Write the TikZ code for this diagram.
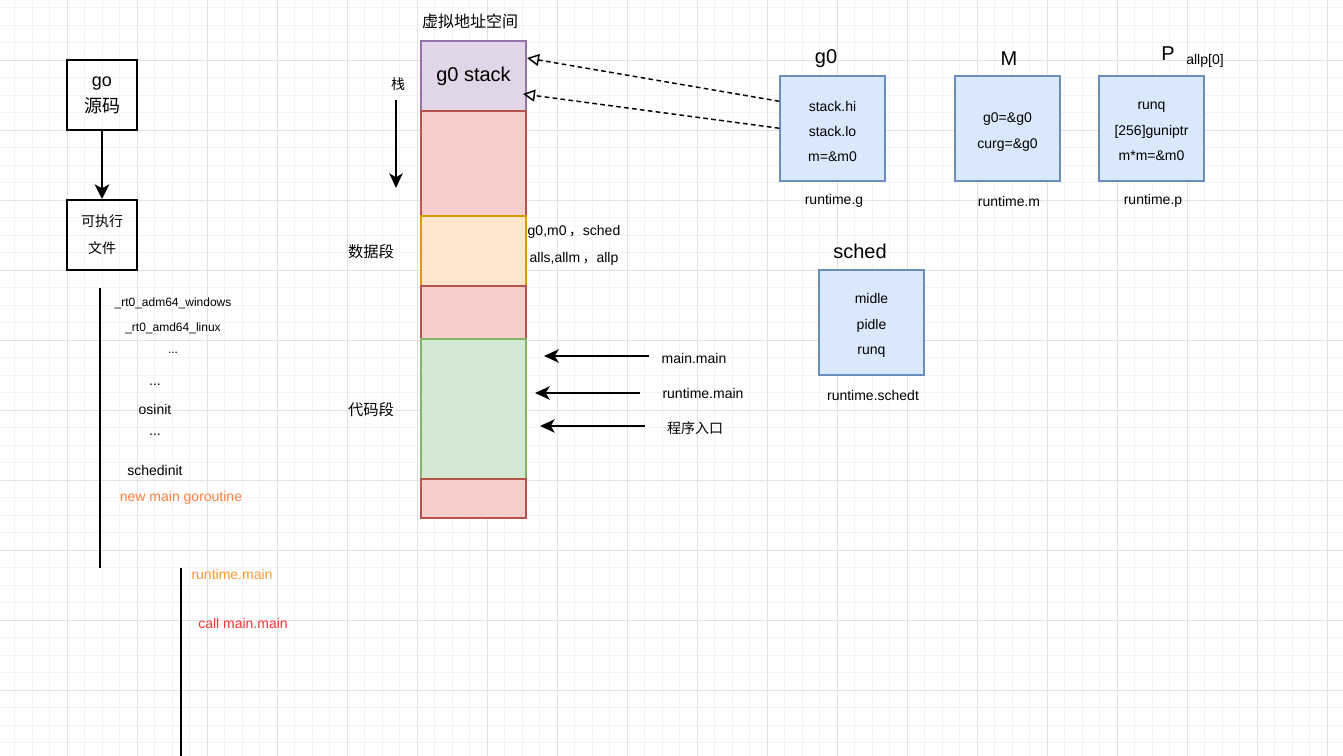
\documentclass[tikz,border=0pt]{standalone}
\usepackage{fontspec}
\setmainfont{Liberation Sans}
\newfontfamily\cjk{Noto Sans CJK SC}
\usetikzlibrary{arrows.meta,calc}

\definecolor{gridmin}{HTML}{F3F3F3}
\definecolor{gridmaj}{HTML}{E2E2E2}
\definecolor{purfill}{HTML}{E1D5E7}
\definecolor{purline}{HTML}{9673A6}
\definecolor{redfill}{HTML}{F8CECC}
\definecolor{redline}{HTML}{B85450}
\definecolor{orgfill}{HTML}{FFE6CC}
\definecolor{orgline}{HTML}{D79B00}
\definecolor{grnfill}{HTML}{D5E8D4}
\definecolor{grnline}{HTML}{82B366}
\definecolor{bluefill}{HTML}{DAE8FC}
\definecolor{blueline}{HTML}{6C8EBF}
\definecolor{txtorange}{HTML}{FF8040}
\definecolor{txtlight}{HTML}{FF9933}
\definecolor{txtred}{HTML}{FF3333}

\begin{document}
\begin{tikzpicture}[x=0.75pt, y=-0.75pt, >={Stealth[length=11pt, width=10pt, inset=3pt]}, line width=0.8pt,
  blkbox/.style={draw=black, line width=1.5pt, minimum width=52.5pt, minimum height=52.5pt, inner sep=0pt, align=center},
  memseg/.style={draw, line width=1.1pt, minimum width=78.75pt, inner sep=0pt, outer sep=0pt},
  bluebox/.style={draw=blueline, fill=bluefill, line width=1.1pt, minimum width=78.75pt, minimum height=78.75pt, inner sep=0pt},
  fields/.style={align=center, inner sep=0pt, font=\fontsize{10.5}{19}\selectfont},
  sm/.style={font=\fontsize{9}{11}\selectfont, inner sep=0pt},
  md/.style={font=\fontsize{10.5}{12}\selectfont, inner sep=0pt},
  cn/.style={font=\cjk\fontsize{10.5}{12}\selectfont, inner sep=0pt},
  big/.style={font=\fontsize{15}{18}\selectfont, inner sep=0pt},
  dasharr/.style={dashed, dash pattern=on 3.5pt off 2.5pt, line width=1.1pt, -{Triangle[open, length=9pt, width=9pt]}}]

\useasboundingbox (0,0) rectangle (1343,756);

% grid background
\begin{scope}
  \clip (0,0) rectangle (1343,756);
  \foreach \i in {0,...,77} \draw[gridmin, line width=0.6pt] (-2.7+17.5*\i,0) -- (-2.7+17.5*\i,756);
  \foreach \i in {0,...,44} \draw[gridmin, line width=0.6pt] (0,-10+17.5*\i) -- (1343,-10+17.5*\i);
  \foreach \i in {0,...,19} \draw[gridmaj, line width=0.6pt] (-2.7+70*\i,0) -- (-2.7+70*\i,756);
  \foreach \i in {0,...,11} \draw[gridmaj, line width=0.6pt] (0,-10+70*\i) -- (1343,-10+70*\i);
\end{scope}

% build steps
\node[blkbox, font=\fontsize{13.5}{19.5}\selectfont] (gosrc) at (102,95) {go\\{\cjk 源码}};
\node[blkbox, font=\cjk\fontsize{10.5}{20}\selectfont] (exefile) at (102,235) {可执行\\文件};
\draw[->, line width=1.5pt, >={Stealth[length=11pt, width=11pt, inset=3pt]}] (gosrc) -- (exefile);

% startup sequence
\coordinate (seqtop) at (100,288);
\coordinate (seqbot) at (100,568);
\draw[line width=1.5pt] (seqtop) -- (seqbot);
\node[sm] (rtwin) at (173,303) {\_rt0\_adm64\_windows};
\node[sm] (rtlinux) at (173,328) {\_rt0\_amd64\_linux};
\node[sm] (dotsa) at (173,353) {...};
\node[md] (dotsb) at (155,385) {...};
\node[md] (osinit) at (155,409) {osinit};
\node[md] (dotsc) at (155,435) {...};
\node[md] (schedinit) at (155,470) {schedinit};
\node[md, text=txtorange] (newmain) at (181,498) {new main goroutine};

\coordinate (maintop) at (181,568);
\coordinate (mainbot) at (181,756);
\draw[line width=1.5pt] (maintop) -- (mainbot);
\node[md, text=txtlight] (rtmain) at (232,574) {runtime.main};
\node[md, text=txtred] (callmain) at (243,623) {call main.main};

% address space
\node[font=\cjk\fontsize{12}{14}\selectfont, inner sep=0pt] (vspace) at (470,21) {虚拟地址空间};
\node[memseg, draw=purline, fill=purfill, minimum height=52.5pt, font=\fontsize{15}{18}\selectfont] (gstack) at (473.5,76) {g0 stack};
\node[memseg, draw=redline, fill=redfill, minimum height=78.75pt] (freea) at (473.5,163.5) {};
\node[memseg, draw=orgline, fill=orgfill, minimum height=52.5pt] (dataseg) at (473.5,251) {};
\node[memseg, draw=redline, fill=redfill, minimum height=39.75pt] (freeb) at (473.5,312.5) {};
\node[memseg, draw=grnline, fill=grnfill, minimum height=105pt] (codeseg) at (473.5,409) {};
\node[memseg, draw=redline, fill=redfill, minimum height=29.25pt] (freec) at (473.5,498.5) {};

\node[cn] (zhan) at (398,84) {栈};
\coordinate (growtop) at (396,100);
\coordinate (growbot) at (396,188);
\draw[->, line width=1.1pt] (growtop) -- (growbot);
\node[cn, font=\cjk\fontsize{11.5}{12}\selectfont] (datalbl) at (371,252) {数据段};
\node[cn, font=\cjk\fontsize{11.5}{12}\selectfont] (codelbl) at (371,410) {代码段};

\node[md] (datavara) at (574,232) {g0,m0\,{\cjk ，}sched};
\node[md] (datavarb) at (574,259) {alls,allm\,{\cjk ，}allp};

% code pointers
\coordinate (mmfrom) at (649,356);
\coordinate (mmto) at (544,356);
\coordinate (rmfrom) at (640,393);
\coordinate (rmto) at (535,393);
\coordinate (entfrom) at (645,426);
\coordinate (entto) at (540,426);
\draw[->, line width=1.5pt] (mmfrom) -- (mmto);
\draw[->, line width=1.5pt] (rmfrom) -- (rmto);
\draw[->, line width=1.5pt] (entfrom) -- (entto);
\node[md] (mmlbl) at (694,358) {main.main};
\node[md] (rmlbl) at (703,393) {runtime.main};
\node[cn] (entlbl) at (695,428) {程序入口};

% runtime structures
\node[bluebox] (gbox) at (832.5,128.5) {};
\node[fields] (gfields) at ($(gbox)+(0,3)$) {stack.hi\\stack.lo\\m=\&m0};
\node[big] (gtitle) at (826,59) {g0};
\node[md] (gtype) at (834,201) {runtime.g};

\node[bluebox] (mbox) at (1007.5,128.5) {};
\node[fields] (mfields) at ($(mbox)+(0,3.5)$) {g0=\&g0\\curg=\&g0};
\node[big] (mtitle) at (1009,59) {M};
\node[md] (mtype) at (1009,201) {runtime.m};

\node[bluebox] (pbox) at (1151.5,128.5) {};
\node[fields] (pfields) at ($(pbox)+(0,3)$) {runq\\{[}256{]}guniptr\\m*m=\&m0};
\node[big] (ptitle) at (1168,54) {P};
\node[md] (pall) at (1205,61) {allp[0]};
\node[md] (ptype) at (1153,201) {runtime.p};

\node[bluebox] (schedbox) at (871.5,322.5) {};
\node[fields] (schedfields) at ($(schedbox)+(0,3)$) {midle\\pidle\\runq};
\node[big] (schedtitle) at (860,251) {sched};
\node[md] (schedtype) at (873,395) {runtime.schedt};

\draw[dasharr] ($(gbox.north west)+(0,26)$) -- ($(gstack.north east)+(1,17)$);
\draw[dasharr] ($(gbox.north west)+(0,53)$) -- ($(gstack.north east)+(-3,53)$);

\end{tikzpicture}
\end{document}
